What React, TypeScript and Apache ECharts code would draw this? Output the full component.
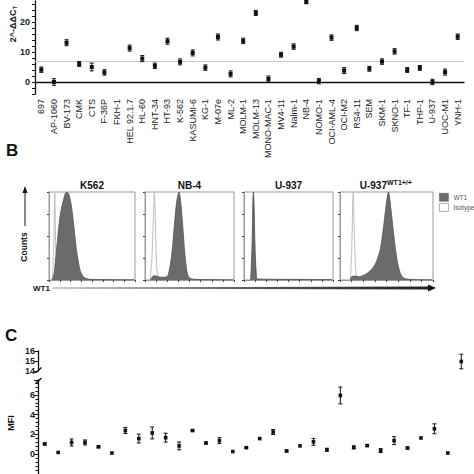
import React, { useEffect, useRef } from "react";
import * as echarts from "echarts";

// ---------- Panel A data ----------
const aCategories = [
  "697", "AP-1060", "BV-173", "CMK", "CTS", "F-36P", "FKH-1", "HEL 92.1.7", "HL-60", "HNT-34",
  "HT-93", "K-562", "KASUMI-6", "KG-1", "M-07e", "ML-2", "MOLM-1", "MOLM-13", "MONO-MAC-1", "MV4-11",
  "Nalm-1", "NB-4", "NOMO-1", "OCI-AML-4", "OCI-M2", "RS4-11", "SEM", "SKM-1", "SKNO-1", "TF-1",
  "THP-1", "U-937", "UOC-M1", "YNH-1",
];
const aValues = [
  4.1, 0.0, 13.1, 6.0, 5.0, 3.2, null, 11.3, 7.8, 5.4,
  13.6, 6.7, 9.7, 4.8, 15.0, 2.7, 13.7, 23.0, 1.0, 9.1,
  11.8, 26.7, 0.3, 14.8, 3.8, 18.0, 4.4, 6.8, 10.2, 4.0,
  4.7, 0.0, 3.3, 15.1,
];
const aErrors = [
  0.9, 1.1, 1.0, 0.8, 1.3, 0.9, 0, 1.0, 1.0, 0.9,
  1.0, 1.0, 1.0, 0.9, 1.0, 1.0, 0.9, 0.8, 1.0, 0.8,
  0.9, 0.6, 0.9, 0.9, 1.0, 0.9, 0.8, 0.9, 0.9, 0.8,
  0.8, 0.9, 1.0, 0.9,
];
const aThreshold = 6.8;
const aTickLabels = [0, 10, 20];

// ---------- Panel B data (flow cytometry histograms, [WT1 intensity, counts]) ----------
const bTitles = ["K562", "NB-4", "U-937", "U-937"];
const k562Wt1 = [[3.5, 0], [5.9, 0.3], [8.6, 1.3], [12.5, 2.8], [16.5, 3.6], [20.4, 4.0], [23.1, 3.9], [26.3, 3.3], [29.0, 2.4], [32.2, 1.3], [36.1, 0.46], [40.0, 0.15], [45.9, 0.04], [60, 0.02], [99, 0.01]];
const k562Iso = [[3.9, 0], [5.5, 1.5], [6.7, 3.95], [7.8, 1.5], [9.4, 0.1], [12, 0]];
const nb4Wt1 = [[6.4, 0], [7.9, 0.12], [10.1, 0.2], [15.0, 0.15], [20.6, 0.12], [24.3, 0.15], [26.2, 0.23], [30.0, 1.14], [33.0, 2.5], [35.6, 3.57], [38.2, 4.0], [40.1, 3.57], [42.3, 2.5], [44.9, 1.14], [47.6, 0.3], [50.6, 0.08], [58, 0.03], [99, 0.01]];
const nb4Iso = [[5.6, 0], [7.5, 0.8], [9.4, 2.8], [10.5, 4.0], [11.6, 2.8], [12.7, 1.0], [14.2, 0.2], [16.9, 0.05], [20, 0]];
const u937Wt1 = [[7.5, 0], [9.0, 1.5], [10.1, 3.7], [10.6, 4.0], [11.2, 3.5], [12.4, 1.5], [13.9, 0.2], [15, 0.05], [50, 0.03], [99, 0.02]];
const u937Iso = [[8.2, 0], [9.4, 1.6], [10.4, 3.8], [11.1, 3.2], [12.2, 1.2], [13.5, 0]];
const u937wtWt1 = [[11.3, 0], [12.5, 0.15], [17, 0.18], [20.2, 0.15], [22.0, 0.16], [29.1, 0.3], [36.2, 0.6], [39.7, 0.9], [43.3, 1.4], [46.8, 2.4], [49.6, 3.4], [52.1, 4.0], [54.6, 3.3], [57.4, 2.2], [61.0, 1.0], [64.5, 0.35], [68.1, 0.1], [75.2, 0.03], [99, 0.01]];
const u937wtIso = [[11.3, 0], [12.7, 1.5], [14.2, 4.0], [15.6, 1.8], [17.0, 0.4], [19.0, 0.1], [22, 0]];

// ---------- Panel C data (MFI) ----------
const cCategories = Array.from({ length: 32 }, (_, i) => String(i + 1));
const cValues = [
  1.04, 0.18, 1.19, 1.19, 0.75, 0.12, 2.39, 1.58, 2.15, 1.67,
  0.84, 2.39, 1.13, 1.37, 0.27, 0.66, 1.58, 2.24, 0.33, 0.84,
  1.25, 0.45, 5.94, 0.69, 0.87, 0.36, 1.37, 0.63, 1.64, 2.57,
  0.12, 14.95,
];
const cErrors = [
  0.1, 0, 0.35, 0.25, 0.1, 0, 0.3, 0.45, 0.6, 0.45,
  0.4, 0.05, 0.1, 0.3, 0, 0.05, 0, 0.25, 0.1, 0,
  0.35, 0.15, 0.85, 0.15, 0.1, 0.2, 0.4, 0.1, 0, 0.5,
  0, 0.73,
];
const cBreakLow = 7.5;

const FONT = "Liberation Sans, Arial, Helvetica, sans-serif";

function errRender(size: number) {
  return (params: any, api: any) => {
    const x = api.value(0);
    const y = api.value(1);
    const e = api.value(2);
    const c = api.coord([x, y]);
    const t = api.coord([x, y + e]);
    const b = api.coord([x, y - e]);
    const st = { stroke: "#111", lineWidth: 1 };
    const children: any[] = [];
    if (e > 0) {
      children.push({ type: "line", shape: { x1: c[0], y1: t[1], x2: c[0], y2: b[1] }, style: st });
      children.push({ type: "line", shape: { x1: c[0] - 2, y1: t[1], x2: c[0] + 2, y2: t[1] }, style: st });
      children.push({ type: "line", shape: { x1: c[0] - 2, y1: b[1], x2: c[0] + 2, y2: b[1] }, style: st });
    }
    children.push({ type: "rect", shape: { x: c[0] - size / 2, y: c[1] - size / 2, width: size, height: size }, style: { fill: "#111" } });
    return { type: "group", children };
  };
}

export default function App() {
  const ref = useRef<HTMLDivElement>(null);
  useEffect(() => {
    if (!ref.current) return;
    const chart = echarts.init(ref.current, null, { renderer: "svg" });

    const aData = aValues
      .map((v, i) => (v === null ? null : [i, v, aErrors[i]]))
      .filter((d) => d !== null);
    const cLowData = cValues
      .map((v, i) => (v <= cBreakLow ? [i, v, cErrors[i]] : null))
      .filter((d) => d !== null);
    const cHighData = cValues
      .map((v, i) => (v > cBreakLow ? [i, v, cErrors[i]] : null))
      .filter((d) => d !== null);

    const boxes = [
      { left: 49, width: 86 },
      { left: 145, width: 89 },
      { left: 244, width: 89 },
      { left: 340, width: 93 },
    ];
    const hist = [
      [k562Wt1, k562Iso],
      [nb4Wt1, nb4Iso],
      [u937Wt1, u937Iso],
      [u937wtWt1, u937wtIso],
    ];

    const grids: any[] = [
      { left: 35, top: 1, width: 429, height: 93 },
      ...boxes.map((b) => ({ left: b.left, top: 192, width: b.width, height: 88, show: true, borderColor: "#9a9a9a", borderWidth: 1, backgroundColor: "#fff" })),
      { left: 38, top: 351, width: 430, height: 20 },
      { left: 38, top: 380, width: 430, height: 105.5 },
    ];

    const xAxes: any[] = [
      {
        type: "category", gridIndex: 0, data: aCategories,
        axisLine: { lineStyle: { color: "#111", width: 1.3 } },
        axisTick: { alignWithLabel: true, length: 3, lineStyle: { color: "#111" } },
        axisLabel: { rotate: 90, interval: 0, fontSize: 9, color: "#1a1a1a", fontFamily: FONT, margin: 5 },
      },
      ...boxes.map((_, i) => ({
        type: "value", gridIndex: i + 1, min: 0, max: 100, interval: 12.5,
        axisLine: { lineStyle: { color: "#9a9a9a" } },
        axisTick: { length: 2, lineStyle: { color: "#444" } },
        axisLabel: { show: false }, splitLine: { show: false },
      })),
      { type: "category", gridIndex: 5, data: cCategories, show: false },
      { type: "category", gridIndex: 6, data: cCategories, show: false },
    ];

    const yAxes: any[] = [
      {
        type: "value", gridIndex: 0, min: -4, max: 27, interval: 2,
        axisLine: { show: true, lineStyle: { color: "#111", width: 1.3 } },
        axisTick: { show: true, length: 3, lineStyle: { color: "#111" } },
        splitLine: { show: false },
        axisLabel: {
          fontSize: 9, fontWeight: "bold", color: "#222", fontFamily: FONT, margin: 5,
          showMaxLabel: false,
          formatter: (v: number) => (aTickLabels.includes(v) ? String(v) : ""),
        },
      },
      ...boxes.map((_, i) => ({
        type: "value", gridIndex: i + 1, min: 0, max: 4, interval: 1,
        axisLine: { show: true, lineStyle: { color: "#9a9a9a" } },
        axisTick: { show: true, length: 2, lineStyle: { color: "#444" } },
        axisLabel: { show: false }, splitLine: { show: false },
      })),
      {
        type: "value", gridIndex: 5, min: 14, max: 16, interval: 1,
        axisLine: { show: true, lineStyle: { color: "#111", width: 1.3 } },
        axisTick: { show: true, length: 4, lineStyle: { color: "#111" } },
        splitLine: { show: false },
        axisLabel: { fontSize: 9, fontWeight: "bold", color: "#222", fontFamily: FONT, margin: 3 },
      },
      {
        type: "value", gridIndex: 6, min: -2, max: cBreakLow, interval: 2,
        axisLine: { show: true, lineStyle: { color: "#111", width: 1.3 } },
        axisTick: { show: true, length: 4, lineStyle: { color: "#111" } },
        minorTick: { show: true, splitNumber: 5, length: 2.5, lineStyle: { color: "#111" } },
        splitLine: { show: false },
        axisLabel: {
          fontSize: 9, fontWeight: "bold", color: "#222", fontFamily: FONT, margin: 3,
          showMaxLabel: false,
          formatter: (v: number) => (v >= 0 && v % 2 === 0 ? String(v) : ""),
        },
      },
    ];

    const histSeries: any[] = [];
    hist.forEach(([wt, iso], i) => {
      histSeries.push({
        name: "Isotype", type: "line", xAxisIndex: i + 1, yAxisIndex: i + 1,
        data: iso, symbol: "none", smooth: 0.3, z: 2,
        lineStyle: { color: "#bdbdbd", width: 1 },
        itemStyle: { color: "#fff", borderColor: "#999" },
      });
      histSeries.push({
        name: "WT1", type: "line", xAxisIndex: i + 1, yAxisIndex: i + 1,
        data: wt, symbol: "none", smooth: 0.3, z: 3,
        lineStyle: { color: "#555", width: 0.8 },
        itemStyle: { color: "#6b6b6b" },
        areaStyle: { color: "#6b6b6b", opacity: 1 },
      });
    });

    const graphics: any[] = [
      // Panel A y title
      {
        type: "text", x: 13, y: 24, rotation: Math.PI / 2,
        style: {
          text: "{a|2^-ΔΔC}{b|T}", textAlign: "center", textVerticalAlign: "middle",
          rich: {
            a: { fontSize: 9, fontWeight: "bold", fontFamily: FONT, fill: "#222" },
            b: { fontSize: 6, fontWeight: "bold", fontFamily: FONT, fill: "#222", padding: [4, 0, 0, 0] },
          },
        },
      },
      // Panel letters
      { type: "text", x: 6, y: 150, style: { text: "B", font: `bold 17px ${FONT}`, fill: "#111", textVerticalAlign: "middle" } },
      { type: "text", x: 5, y: 335, style: { text: "C", font: `bold 17px ${FONT}`, fill: "#111", textVerticalAlign: "middle" } },
      // Histogram titles
      ...[0, 1, 2].map((i) => ({
        type: "text", x: boxes[i].left + boxes[i].width / 2, y: 185,
        style: { text: bTitles[i], font: `bold 10px ${FONT}`, fill: "#111", textAlign: "center", textVerticalAlign: "middle" },
      })),
      { type: "text", x: 387, y: 185, style: { text: bTitles[3], font: `bold 10px ${FONT}`, fill: "#111", textAlign: "right", textVerticalAlign: "middle" } },
      { type: "text", x: 387, y: 182, style: { text: "WT1+/+", font: `bold 7px ${FONT}`, fill: "#111", textAlign: "left", textVerticalAlign: "middle" } },
      // Counts label & arrow
      { type: "text", x: 24, y: 247, rotation: Math.PI / 2, style: { text: "Counts", font: `bold 8.5px ${FONT}`, fill: "#111", textAlign: "center", textVerticalAlign: "middle" } },
      { type: "line", shape: { x1: 25, y1: 226, x2: 25, y2: 192 }, style: { stroke: "#111", lineWidth: 1 } },
      { type: "polygon", shape: { points: [[25, 186], [22.5, 193], [27.5, 193]] }, style: { fill: "#111" } },
      // WT1 label & arrow
      { type: "text", x: 33, y: 288, style: { text: "WT1", font: `bold 8px ${FONT}`, fill: "#111", textVerticalAlign: "middle" } },
      {
        type: "polygon",
        shape: { points: [[53, 287.6], [429, 286.6], [429, 289.4], [53, 288.4]] },
        style: { fill: new echarts.graphic.LinearGradient(0, 0, 1, 0, [{ offset: 0, color: "#999" }, { offset: 1, color: "#222" }]) },
      },
      { type: "polygon", shape: { points: [[428, 284.5], [436, 288], [428, 291.5]] }, style: { fill: "#111" } },
      // Panel C axis break marks
      { type: "rect", shape: { x: 34, y: 372, width: 9, height: 7 }, style: { fill: "#fff" } },
      { type: "line", shape: { x1: 35.5, y1: 373, x2: 41.5, y2: 367.5 }, style: { stroke: "#111", lineWidth: 1.3 } },
      { type: "line", shape: { x1: 35.5, y1: 383.5, x2: 41.5, y2: 378 }, style: { stroke: "#111", lineWidth: 1.3 } },
      // MFI label
      { type: "text", x: 11, y: 423, rotation: Math.PI / 2, style: { text: "MFI", font: `bold 9px ${FONT}`, fill: "#111", textAlign: "center", textVerticalAlign: "middle" } },
    ];

    chart.setOption({
      animation: false,
      backgroundColor: "#fff",
      grid: grids,
      xAxis: xAxes,
      yAxis: yAxes,
      legend: {
        orient: "vertical", left: 434, top: 188, itemWidth: 9, itemHeight: 8, itemGap: 1.5,
        textStyle: { fontSize: 6.5, color: "#555", fontFamily: FONT },
        selectedMode: false,
        data: [
          { name: "WT1", icon: "rect", itemStyle: { color: "#6b6b6b", borderColor: "#555", borderWidth: 0.5 } },
          { name: "Isotype", icon: "rect", itemStyle: { color: "#fff", borderColor: "#999", borderWidth: 0.8 } },
        ],
      },
      series: [
        {
          name: "A", type: "custom", xAxisIndex: 0, yAxisIndex: 0, data: aData,
          encode: { x: 0, y: 1 }, renderItem: errRender(4), z: 5,
          markLine: {
            silent: true, symbol: "none", label: { show: false },
            lineStyle: { color: "#c8c8c8", width: 1, type: "solid" },
            data: [{ yAxis: aThreshold }],
          },
        },
        ...histSeries,
        { name: "C-high", type: "custom", xAxisIndex: 5, yAxisIndex: 5, data: cHighData, encode: { x: 0, y: 1 }, renderItem: errRender(3.6), z: 5 },
        { name: "C-low", type: "custom", xAxisIndex: 6, yAxisIndex: 6, data: cLowData, encode: { x: 0, y: 1 }, renderItem: errRender(3.6), z: 5 },
      ],
      graphic: graphics,
    });
    return () => chart.dispose();
  }, []);
  return <div ref={ref} style={{ position: "fixed", left: 0, top: 0, width: 474, height: 474, background: "#fff" }} />;
}
